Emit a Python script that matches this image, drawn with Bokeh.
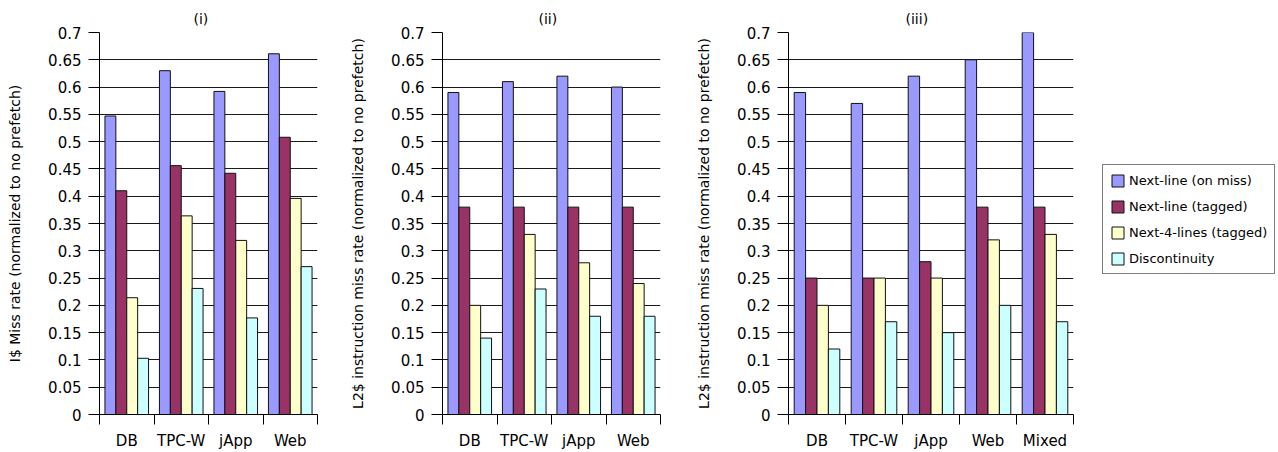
from bokeh.plotting import figure
from bokeh.models import (ColumnDataSource, Range1d, FixedTicker, CustomJSTickFormatter,
                          Legend, LegendItem)
from bokeh.transform import dodge
from bokeh.layouts import row
from bokeh.embed import file_html
from bokeh.resources import INLINE

# ---------------- data ----------------
series = ["Next-line (on miss)", "Next-line (tagged)", "Next-4-lines (tagged)", "Discontinuity"]
colors = ["#9999FF", "#993366", "#FFFFCC", "#CCFFFF"]

cats_i = ["DB", "TPC-W", "jApp", "Web"]
i_next_miss = [0.547, 0.630, 0.592, 0.661]
i_next_tag = [0.410, 0.456, 0.442, 0.508]
i_next4_tag = [0.214, 0.364, 0.319, 0.396]
i_discont = [0.103, 0.231, 0.177, 0.271]

cats_ii = ["DB", "TPC-W", "jApp", "Web"]
ii_next_miss = [0.59, 0.61, 0.62, 0.60]
ii_next_tag = [0.38, 0.38, 0.38, 0.38]
ii_next4_tag = [0.20, 0.33, 0.278, 0.24]
ii_discont = [0.14, 0.23, 0.18, 0.18]

cats_iii = ["DB", "TPC-W", "jApp", "Web", "Mixed"]
iii_next_miss = [0.59, 0.57, 0.62, 0.65, 0.70]
iii_next_tag = [0.25, 0.25, 0.28, 0.38, 0.38]
iii_next4_tag = [0.20, 0.25, 0.25, 0.32, 0.33]
iii_discont = [0.12, 0.17, 0.15, 0.20, 0.17]

y_ticks = [0, 0.05, 0.1, 0.15, 0.2, 0.25, 0.3, 0.35, 0.4, 0.45, 0.5, 0.55, 0.6, 0.65, 0.7]

titles = ["(i)", "(ii)", "(iii)"]
ylabels = ["I$ Miss rate (normalized to no prefetch)",
           "L2$ instruction miss rate (normalized to no prefetch)",
           "L2$ instruction miss rate (normalized to no prefetch)"]

FONT = "DejaVu Sans"
H = 452


def panel(title, ylabel, cats, vals, width, left, right, title_offset):
    n = len(cats)
    data = dict(x=[i + 0.5 for i in range(n)])
    for k in range(4):
        data["s%d" % k] = vals[k]
    src = ColumnDataSource(data)
    p = figure(width=width, height=H, x_range=Range1d(0, n), y_range=Range1d(0, 0.7),
               output_backend="svg", toolbar_location=None, title=title,
               min_border_left=left, min_border_right=right,
               min_border_top=32, min_border_bottom=37)
    for k in range(4):
        p.vbar(x=dodge("x", -0.3 + 0.2 * k), top="s%d" % k, width=0.2, source=src,
               fill_color=colors[k], line_color="#111111", line_width=1)
    p.title.align = "left"
    p.title.offset = title_offset
    p.title.text_font = FONT
    p.title.text_font_size = "14px"
    p.title.text_font_style = "normal"
    p.title.text_color = "black"
    p.title.standoff = 12

    xa = p.xaxis[0]
    xa.ticker = FixedTicker(ticks=[i + 0.5 for i in range(n)], minor_ticks=list(range(n + 1)))
    xa.formatter = CustomJSTickFormatter(args=dict(names=cats),
                                         code="return names[Math.floor(tick)] || '';")
    xa.major_tick_out = 0
    xa.major_tick_in = 0
    xa.major_tick_line_color = None
    xa.minor_tick_out = 10
    xa.minor_tick_in = 0
    xa.minor_tick_line_color = "black"
    xa.axis_line_color = "black"
    xa.major_label_standoff = 7
    xa.major_label_text_font = FONT
    xa.major_label_text_font_size = "15px"
    xa.major_label_text_color = "black"

    ya = p.yaxis[0]
    ya.ticker = FixedTicker(ticks=y_ticks)
    ya.formatter = CustomJSTickFormatter(
        code="var s = tick.toFixed(2).replace(/0+$/, ''); return s.replace(/\\.$/, '');")
    ya.major_tick_out = 11
    ya.major_tick_in = 0
    ya.minor_tick_line_color = None
    ya.axis_line_color = "black"
    ya.major_tick_line_color = "black"
    ya.major_label_standoff = 7
    ya.major_label_text_font = FONT
    ya.major_label_text_font_size = "15px"
    ya.major_label_text_color = "black"
    ya.axis_label = ylabel
    ya.axis_label_standoff = 22
    ya.axis_label_text_font = FONT
    ya.axis_label_text_font_size = "14px"
    ya.axis_label_text_font_style = "normal"
    ya.axis_label_text_color = "black"

    p.xgrid.grid_line_color = None
    p.ygrid.grid_line_color = "#1a1a1a"
    p.outline_line_color = None
    return p, src


p1, _ = panel(titles[0], ylabels[0], cats_i,
              [i_next_miss, i_next_tag, i_next4_tag, i_discont], 330, 99, 13, 94)
p2, _ = panel(titles[1], ylabels[1], cats_ii,
              [ii_next_miss, ii_next_tag, ii_next4_tag, ii_discont], 350, 112, 20, 96)
p3, src3 = panel(titles[2], ylabels[2], cats_iii,
                 [iii_next_miss, iii_next_tag, iii_next4_tag, iii_discont], 410, 108, 17, 117)

# legend panel: legend swatches come from copies of panel (iii)'s bars, which sit
# entirely underneath the (opaque) legend box
p4 = figure(width=188, height=H, x_range=Range1d(-1, 6), y_range=Range1d(-1.2, 1.8),
            output_backend="svg", toolbar_location=None,
            min_border_left=0, min_border_right=0, min_border_top=32, min_border_bottom=37,
            x_axis_location=None, y_axis_location=None)
p4.outline_line_color = None
p4.grid.visible = False
items = []
for k in range(4):
    r = p4.vbar(x=dodge("x", -0.3 + 0.2 * k), top="s%d" % k, width=0.2, source=src3,
                fill_color=colors[k], line_color="#111111", line_width=1)
    items.append(LegendItem(label=series[k], renderers=[r]))
legend = Legend(items=items, location=(12, 140), padding=7, margin=0,
                glyph_width=15, glyph_height=15, label_height=16, spacing=10,
                label_standoff=4, border_line_color="black", border_line_width=1,
                label_text_font=FONT, label_text_font_size="13px",
                label_text_color="black", background_fill_color="white",
                background_fill_alpha=1.0)
p4.add_layout(legend)

layout = row(p1, p2, p3, p4)
open("out.html", "w").write(file_html(layout, INLINE))
